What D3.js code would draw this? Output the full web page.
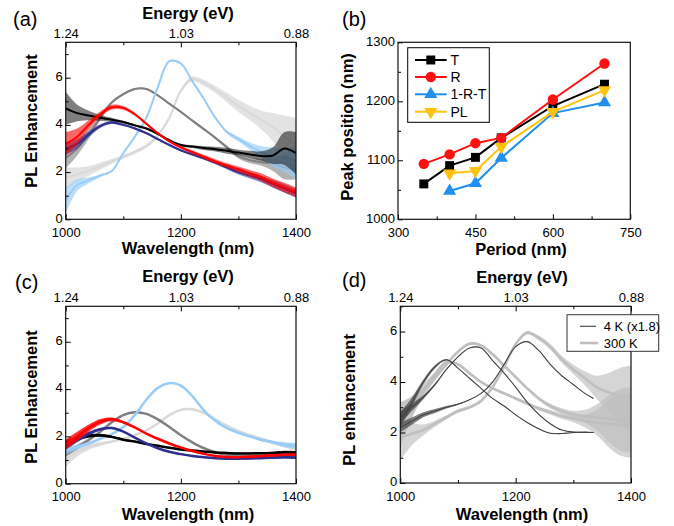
<!DOCTYPE html>
<html>
<head>
<meta charset="utf-8">
<script src="https://cdn.jsdelivr.net/npm/d3@7"></script>
<style>
  body { margin: 0; background: #fff; }
  text { font-family: Arial, "Liberation Sans", sans-serif; fill: #000; }
</style>
</head>
<body>
<svg id="fig" width="674" height="526"></svg>
<script>
// ---------- data ----------
// wavelength grid (nm) for the spectra
const wl = [1000, 1020, 1040, 1060, 1080, 1100, 1120, 1140, 1160, 1180, 1200,
            1220, 1240, 1260, 1280, 1300, 1320, 1340, 1360, 1380, 1400];
// 4 K spectra stop earlier
const wl4K = [1000, 1020, 1040, 1060, 1080, 1100, 1120, 1140, 1160, 1180, 1200,
              1220, 1240, 1260, 1280, 1300, 1320, 1335];

// top axis: energy labels placed at these wavelengths
const energyTickWl = [1000, 1200, 1400];
const energyLabels = ['1.24', '1.03', '0.88'];

// (a) PL enhancement, values + noise half-width
const aLgray  = [1.75, 1.9, 2.05, 2.25, 2.45, 2.65, 2.85, 3.1, 3.55, 4.3, 5.45, 5.95, 5.78, 5.5, 5.15, 4.8, 4.5, 4.2, 3.9, 3.5, 3.2];
const aLgrayN = [0.45, 0.3, 0.2, 0.15, 0.1, 0.08, 0.08, 0.08, 0.08, 0.08, 0.08, 0.1, 0.12, 0.15, 0.2, 0.25, 0.3, 0.4, 0.6, 0.9, 1.1];
const aGray   = [2.6, 3.0, 3.6, 4.3, 4.95, 5.3, 5.52, 5.52, 5.25, 4.9, 4.55, 4.18, 3.82, 3.45, 3.05, 2.68, 2.5, 2.42, 2.35, 2.2, 2.1];
const aGrayN  = [0.45, 0.3, 0.2, 0.1, 0.06, 0.05, 0.04, 0.04, 0.04, 0.04, 0.04, 0.05, 0.06, 0.06, 0.08, 0.1, 0.12, 0.15, 0.3, 0.5, 0.4];
const aBlue   = [0.8, 1.45, 1.65, 1.85, 2.05, 2.8, 3.5, 4.3, 5.6, 6.7, 6.6, 5.85, 5.1, 4.3, 3.7, 3.4, 3.1, 2.85, 2.65, 2.5, 2.4];
const aBlueN  = [0.55, 0.25, 0.12, 0.06, 0.04, 0.04, 0.04, 0.04, 0.04, 0.04, 0.04, 0.04, 0.05, 0.06, 0.07, 0.1, 0.15, 0.25, 0.4, 0.5, 0.7];
const aBlack  = [4.7, 4.5, 4.4, 4.3, 4.22, 4.12, 3.98, 3.85, 3.62, 3.35, 3.15, 3.08, 3.02, 2.97, 2.9, 2.83, 2.75, 2.68, 2.7, 3.0, 2.8];
const aBlackN = [0.7, 0.35, 0.2, 0.12, 0.08, 0.06, 0.05, 0.05, 0.05, 0.05, 0.05, 0.06, 0.08, 0.1, 0.12, 0.12, 0.15, 0.2, 0.35, 0.7, 0.9];
const aNavy   = [3.0, 3.2, 3.6, 3.95, 4.1, 4.0, 3.85, 3.65, 3.4, 3.15, 2.92, 2.75, 2.58, 2.4, 2.2, 2.0, 1.85, 1.7, 1.5, 1.3, 1.1];
const aNavyN  = [0.25, 0.2, 0.12, 0.08, 0.06, 0.05, 0.05, 0.05, 0.05, 0.05, 0.05, 0.06, 0.06, 0.07, 0.08, 0.1, 0.12, 0.14, 0.16, 0.18, 0.18];
const aRed    = [3.2, 3.5, 4.0, 4.45, 4.75, 4.72, 4.45, 4.05, 3.65, 3.3, 3.05, 2.85, 2.65, 2.45, 2.28, 2.12, 1.95, 1.78, 1.55, 1.35, 1.15];
const aRedN   = [0.5, 0.35, 0.2, 0.12, 0.1, 0.08, 0.06, 0.05, 0.05, 0.05, 0.06, 0.07, 0.08, 0.09, 0.1, 0.12, 0.14, 0.16, 0.18, 0.2, 0.2];

// (b) peak positions vs period
const period   = [350, 400, 450, 500, 600, 700];
const peakT    = [1060, 1091, 1105, 1138, 1192, 1229];
const peakR    = [1094, 1110, 1129, 1138, 1203, 1264];
const periodA  = [400, 450, 500, 600, 700];
const peakA    = [1048, 1061, 1104, 1180, 1198];
const peakPL   = [1078, 1082, 1123, 1182, 1219];

// (c)
const cLgray  = [1.0, 1.35, 1.55, 1.68, 1.78, 1.9, 2.05, 2.25, 2.55, 2.9, 3.12, 3.15, 3.0, 2.72, 2.45, 2.22, 2.05, 1.9, 1.75, 1.6, 1.45];
const cLgrayN = [0.3, 0.2, 0.12, 0.08, 0.05, 0.04, 0.04, 0.04, 0.04, 0.04, 0.04, 0.04, 0.04, 0.04, 0.04, 0.04, 0.05, 0.05, 0.06, 0.07, 0.08];
const cGray   = [1.3, 1.55, 1.85, 2.2, 2.6, 2.9, 3.02, 2.95, 2.72, 2.4, 2.05, 1.75, 1.5, 1.33, 1.22, 1.17, 1.16, 1.17, 1.18, 1.2, 1.2];
const cGrayN  = [0.15, 0.1, 0.06, 0.04, 0.03, 0.03, 0.03, 0.03, 0.03, 0.03, 0.03, 0.03, 0.03, 0.03, 0.03, 0.03, 0.04, 0.04, 0.05, 0.06, 0.07];
const cBlue   = [1.4, 1.55, 1.7, 1.9, 2.1, 2.4, 2.9, 3.55, 4.05, 4.25, 4.15, 3.7, 3.1, 2.65, 2.35, 2.15, 2.0, 1.85, 1.75, 1.65, 1.6];
const cBlueN  = [0.15, 0.1, 0.06, 0.04, 0.03, 0.03, 0.03, 0.03, 0.03, 0.03, 0.03, 0.03, 0.03, 0.03, 0.03, 0.04, 0.05, 0.06, 0.07, 0.1, 0.12];
const cBlack  = [1.7, 1.9, 2.02, 2.05, 1.98, 1.86, 1.78, 1.68, 1.6, 1.52, 1.45, 1.4, 1.36, 1.32, 1.3, 1.28, 1.28, 1.29, 1.3, 1.33, 1.32];
const cBlackN = [0.15, 0.1, 0.08, 0.06, 0.05, 0.04, 0.03, 0.03, 0.03, 0.03, 0.03, 0.03, 0.03, 0.03, 0.03, 0.04, 0.04, 0.05, 0.05, 0.06, 0.06];
const cNavy   = [1.55, 1.85, 2.12, 2.3, 2.35, 2.2, 1.95, 1.7, 1.5, 1.35, 1.25, 1.17, 1.12, 1.08, 1.06, 1.06, 1.07, 1.08, 1.1, 1.12, 1.1];
const cNavyN  = [0.12, 0.1, 0.08, 0.05, 0.04, 0.03, 0.03, 0.03, 0.03, 0.03, 0.03, 0.03, 0.03, 0.03, 0.03, 0.03, 0.04, 0.04, 0.05, 0.05, 0.06];
const cRed    = [1.65, 2.0, 2.35, 2.62, 2.72, 2.6, 2.38, 2.12, 1.9, 1.7, 1.53, 1.38, 1.26, 1.17, 1.13, 1.12, 1.14, 1.17, 1.2, 1.22, 1.22];
const cRedN   = [0.22, 0.2, 0.15, 0.12, 0.08, 0.05, 0.03, 0.03, 0.03, 0.03, 0.03, 0.03, 0.03, 0.03, 0.03, 0.03, 0.04, 0.04, 0.05, 0.05, 0.06];

// (d) 300 K spectra (grey) and 4 K spectra scaled x1.8 (dark)
const d300A  = [2.3, 3.0, 3.7, 4.3, 4.78, 4.7, 4.35, 4.0, 3.75, 3.55, 3.35, 3.15, 2.95, 2.8, 2.65, 2.55, 2.45, 2.4, 2.35, 2.3, 2.3];
const d300AN = [0.9, 0.45, 0.22, 0.1, 0.07, 0.05, 0.05, 0.05, 0.05, 0.05, 0.05, 0.06, 0.07, 0.09, 0.11, 0.14, 0.25, 0.5, 0.9, 1.2, 1.3];
const d300B  = [2.4, 3.0, 3.6, 4.15, 4.7, 5.2, 5.52, 5.45, 5.1, 4.65, 4.2, 3.75, 3.35, 3.05, 2.85, 2.72, 2.65, 2.6, 2.55, 2.5, 2.5];
const d300BN = [0.8, 0.4, 0.2, 0.1, 0.07, 0.05, 0.05, 0.05, 0.05, 0.05, 0.05, 0.06, 0.07, 0.09, 0.11, 0.14, 0.25, 0.5, 0.9, 1.2, 1.3];
const d300C  = [1.8, 1.95, 2.1, 2.35, 2.6, 2.85, 3.0, 3.25, 3.8, 4.6, 5.5, 5.95, 5.75, 5.4, 4.9, 4.5, 4.15, 3.8, 3.6, 3.45, 3.35];
const d300CN = [0.9, 0.45, 0.22, 0.12, 0.08, 0.07, 0.06, 0.06, 0.06, 0.06, 0.06, 0.07, 0.09, 0.11, 0.14, 0.18, 0.28, 0.45, 0.75, 1.1, 1.3];
const d4A    = [2.5, 3.2, 4.0, 4.6, 4.88, 4.55, 4.15, 3.75, 3.35, 3.05, 2.7, 2.4, 2.15, 1.97, 1.96, 2.0, 2.02, 2.0];
const d4AN   = [0.3, 0.18, 0.1, 0.06, 0.03, 0.01, 0.01, 0.01, 0.01, 0.01, 0.01, 0.01, 0.01, 0.01, 0.01, 0.01, 0.01, 0.01];
const d4B    = [2.6, 3.0, 3.4, 3.9, 4.5, 5.0, 5.35, 5.35, 4.85, 4.35, 3.8, 3.2, 2.72, 2.35, 2.1, 2.02, 2.0, 2.0];
const d4BN   = [0.25, 0.15, 0.08, 0.05, 0.02, 0.01, 0.01, 0.01, 0.01, 0.01, 0.01, 0.01, 0.01, 0.01, 0.01, 0.01, 0.01, 0.01];
const d4C    = [2.2, 2.45, 2.7, 2.85, 3.0, 3.12, 3.3, 3.55, 4.0, 4.7, 5.4, 5.6, 5.25, 4.7, 4.25, 3.9, 3.55, 3.35];
const d4CN   = [0.18, 0.14, 0.1, 0.08, 0.05, 0.03, 0.01, 0.01, 0.01, 0.01, 0.01, 0.01, 0.01, 0.01, 0.01, 0.01, 0.01, 0.01];

// ---------- drawing ----------
const svg = d3.select('#fig');
const FONT = 'Arial, "Liberation Sans", sans-serif';

function makePanel(id, box, xdom, ydom) {
  const x = d3.scaleLinear().domain(xdom).range([box.x0, box.x1]);
  const y = d3.scaleLinear().domain(ydom).range([box.y1, box.y0]);
  svg.append('clipPath').attr('id', 'clip-' + id)
    .append('rect')
    .attr('x', box.x0).attr('y', box.y0)
    .attr('width', box.x1 - box.x0).attr('height', box.y1 - box.y0);
  const plot = svg.append('g').attr('clip-path', `url(#clip-${id})`);
  return { x, y, box, plot };
}

function styleAxis(g) {
  g.select('.domain').remove();
  g.selectAll('line').attr('stroke', '#000').attr('stroke-width', 1);
  g.selectAll('text').attr('font-size', 13).attr('font-family', FONT).attr('fill', '#000');
}

function axes(p, opt) {
  const { x, y, box } = p;
  const g = svg.append('g');
  g.append('g').attr('transform', `translate(0,${box.y1})`)
    .call(d3.axisBottom(x).tickValues(opt.xMinor).tickSize(-3).tickFormat(''))
    .call(styleAxis);
  g.append('g').attr('transform', `translate(0,${box.y1})`)
    .call(d3.axisBottom(x).tickValues(opt.xMajor).tickSize(-5).tickPadding(8.5).tickFormat(d3.format('d')))
    .call(styleAxis);
  g.append('g').attr('transform', `translate(${box.x0},0)`)
    .call(d3.axisLeft(y).tickValues(opt.yMinor).tickSize(-3).tickFormat(''))
    .call(styleAxis);
  g.append('g').attr('transform', `translate(${box.x0},0)`)
    .call(d3.axisLeft(y).tickValues(opt.yMajor).tickSize(-5).tickPadding(3).tickFormat(d3.format('d')))
    .call(styleAxis)
    .call(a => a.selectAll('text').attr('dy', '0.22em'));
  if (opt.energy) {
    g.append('g').attr('transform', `translate(0,${box.y0})`)
      .call(d3.axisTop(x).tickValues(opt.xMinor).tickSize(-3).tickFormat(''))
      .call(styleAxis);
    g.append('g').attr('transform', `translate(0,${box.y0})`)
      .call(d3.axisTop(x).tickValues(energyTickWl).tickSize(-5).tickPadding(4.6)
        .tickFormat((d, i) => energyLabels[i]))
      .call(styleAxis);
  }
  svg.append('rect')
    .attr('x', box.x0).attr('y', box.y0)
    .attr('width', box.x1 - box.x0).attr('height', box.y1 - box.y0)
    .attr('fill', 'none').attr('stroke', '#111').attr('stroke-width', 1.2);
}

function label(txt, x, y, size, bold, anchor, rotate) {
  const t = svg.append('text').text(txt)
    .attr('font-size', size).attr('font-family', FONT)
    .attr('font-weight', bold ? 'bold' : 'normal')
    .attr('text-anchor', anchor || 'middle');
  if (rotate) t.attr('transform', `translate(${x},${y}) rotate(-90)`);
  else t.attr('x', x).attr('y', y);
  return t;
}

function spectrum(p, xs, vals, noise, color, width, bandOpacity) {
  const pts = xs.map((w, i) => ({ w, v: vals[i], s: noise[i] }));
  const band = d3.area().x(d => p.x(d.w))
    .y0(d => p.y(d.v - d.s)).y1(d => p.y(d.v + d.s))
    .curve(d3.curveCatmullRom);
  p.plot.append('path').attr('d', band(pts)).attr('fill', color).attr('opacity', bandOpacity);
  const line = d3.line().x(d => p.x(d.w)).y(d => p.y(d.v)).curve(d3.curveCatmullRom);
  p.plot.append('path').attr('d', line(pts))
    .attr('fill', 'none').attr('stroke', color).attr('stroke-width', width)
    .attr('stroke-linejoin', 'round');
}

const COL = {
  black: '#000000', red: '#ff0000', navy: '#2e2e8f',
  gray: '#808080', lblue: '#99ccf8', lgray: '#d9d9d9'
};

const wlAxis = { xMajor: [1000, 1200, 1400], xMinor: [1100, 1300],
                 yMajor: [0, 2, 4, 6], yMinor: [1, 3, 5, 7], energy: true };

// ----- (a) -----
const pa = makePanel('a', { x0: 65.7, x1: 296, y0: 42.3, y1: 219.3 }, [1000, 1400], [0, 7.5]);
spectrum(pa, wl, aLgray, aLgrayN, COL.lgray, 2, 0.75);
spectrum(pa, wl, aGray, aGrayN, COL.gray, 2, 0.6);
spectrum(pa, wl, aBlue, aBlueN, COL.lblue, 2, 0.65);
spectrum(pa, wl, aBlack, aBlackN, COL.black, 2, 0.5);
spectrum(pa, wl, aNavy, aNavyN, COL.navy, 2, 0.6);
spectrum(pa, wl, aRed, aRedN, COL.red, 2, 0.6);
axes(pa, wlAxis);
label('(a)', 13, 26, 20, false, 'start');
label('Energy (eV)', 188, 18.5, 16.5, true);
label('Wavelength (nm)', 188, 254, 16.5, true);
label('PL Enhancement', 36.5, 121, 16.5, true, 'middle', true);

// ----- (b) -----
const pb = makePanel('b', { x0: 398, x1: 630.3, y0: 42.3, y1: 219.3 }, [300, 750], [1000, 1300]);
const bSeries = [
  { name: 'T', xs: period, ys: peakT, color: '#000000', sym: d3.symbolSquare, size: 80, rot: 0 },
  { name: 'R', xs: period, ys: peakR, color: '#ff1010', sym: d3.symbolCircle, size: 85, rot: 0 },
  { name: '1-R-T', xs: periodA, ys: peakA, color: '#1f8ff0', sym: d3.symbolTriangle, size: 75, rot: 0 },
  { name: 'PL', xs: periodA, ys: peakPL, color: '#ffc20e', sym: d3.symbolTriangle, size: 75, rot: 180 }
];
const bg = svg.append('g');
bSeries.forEach(s => {
  const pts = s.xs.map((v, i) => [pb.x(v), pb.y(s.ys[i])]);
  bg.append('path').attr('d', d3.line()(pts))
    .attr('fill', 'none').attr('stroke', s.color).attr('stroke-width', 2);
  bg.selectAll(null).data(pts).enter().append('path')
    .attr('d', d3.symbol().type(s.sym).size(s.size))
    .attr('transform', d => `translate(${d[0]},${d[1]}) rotate(${s.rot})`)
    .attr('fill', s.color);
});
axes(pb, { xMajor: [300, 450, 600, 750], xMinor: [375, 525, 675],
           yMajor: [1000, 1100, 1200, 1300], yMinor: [1050, 1150, 1250], energy: false });
// legend
svg.append('rect').attr('x', 407.7).attr('y', 47.7).attr('width', 81.6).attr('height', 74.6)
  .attr('fill', '#fff').attr('stroke', '#000').attr('stroke-width', 1);
const legY = [60, 77, 94.3, 111.7];
bSeries.forEach((s, i) => {
  svg.append('line').attr('x1', 415).attr('x2', 446.7).attr('y1', legY[i]).attr('y2', legY[i])
    .attr('stroke', s.color).attr('stroke-width', 2);
  svg.append('path').attr('d', d3.symbol().type(s.sym).size(s.size))
    .attr('transform', `translate(430.8,${legY[i]}) rotate(${s.rot})`).attr('fill', s.color);
  label(s.name, 450.5, legY[i] + 5, 14, false, 'start');
});
label('(b)', 342, 26, 20, false, 'start');
label('Period (nm)', 521, 255, 16.5, true);
label('Peak position (nm)', 352.5, 127, 16.5, true, 'middle', true);

// ----- (c) -----
const pc = makePanel('c', { x0: 65.7, x1: 296, y0: 306.3, y1: 483.7 }, [1000, 1400], [0, 7.5]);
spectrum(pc, wl, cLgray, cLgrayN, COL.lgray, 2.5, 0.8);
spectrum(pc, wl, cGray, cGrayN, COL.gray, 2.5, 0.8);
spectrum(pc, wl, cBlue, cBlueN, COL.lblue, 2.5, 0.8);
spectrum(pc, wl, cBlack, cBlackN, COL.black, 2.5, 0.8);
spectrum(pc, wl, cNavy, cNavyN, COL.navy, 2.5, 0.8);
spectrum(pc, wl, cRed, cRedN, COL.red, 2.5, 0.8);
axes(pc, wlAxis);
label('(c)', 15, 289, 20, false, 'start');
label('Energy (eV)', 188, 282, 16.5, true);
label('Wavelength (nm)', 188, 520, 16.5, true);
label('PL Enhancement', 36.5, 397, 16.5, true, 'middle', true);

// ----- (d) -----
const pd = makePanel('d', { x0: 400.3, x1: 631, y0: 306.3, y1: 483 }, [1000, 1400], [0, 7]);
const c300 = '#bfbfbf', c4K = '#444444';
spectrum(pd, wl, d300A, d300AN, c300, 2.6, 0.65);
spectrum(pd, wl, d300B, d300BN, c300, 2.6, 0.65);
spectrum(pd, wl, d300C, d300CN, c300, 2.6, 0.65);
spectrum(pd, wl4K, d4A, d4AN, c4K, 1.1, 0.7);
spectrum(pd, wl4K, d4B, d4BN, c4K, 1.1, 0.7);
spectrum(pd, wl4K, d4C, d4CN, c4K, 1.1, 0.7);
axes(pd, wlAxis);
svg.append('rect').attr('x', 567).attr('y', 314.7).attr('width', 91.7).attr('height', 36.6)
  .attr('fill', '#fff').attr('stroke', '#333').attr('stroke-width', 1);
svg.append('line').attr('x1', 580).attr('x2', 596).attr('y1', 326.3).attr('y2', 326.3)
  .attr('stroke', c4K).attr('stroke-width', 1.1);
svg.append('line').attr('x1', 580).attr('x2', 598).attr('y1', 343).attr('y2', 343)
  .attr('stroke', c300).attr('stroke-width', 2.6);
label('4 K (x1.8)', 603.7, 331, 13, false, 'start');
label('300 K', 603.7, 347.7, 13, false, 'start');
label('(d)', 342, 287, 20, false, 'start');
label('Energy (eV)', 522, 283, 16.5, true);
label('Wavelength (nm)', 522, 520, 16.5, true);
label('PL enhancement', 355, 400, 16.5, true, 'middle', true);
</script>
</body>
</html>
